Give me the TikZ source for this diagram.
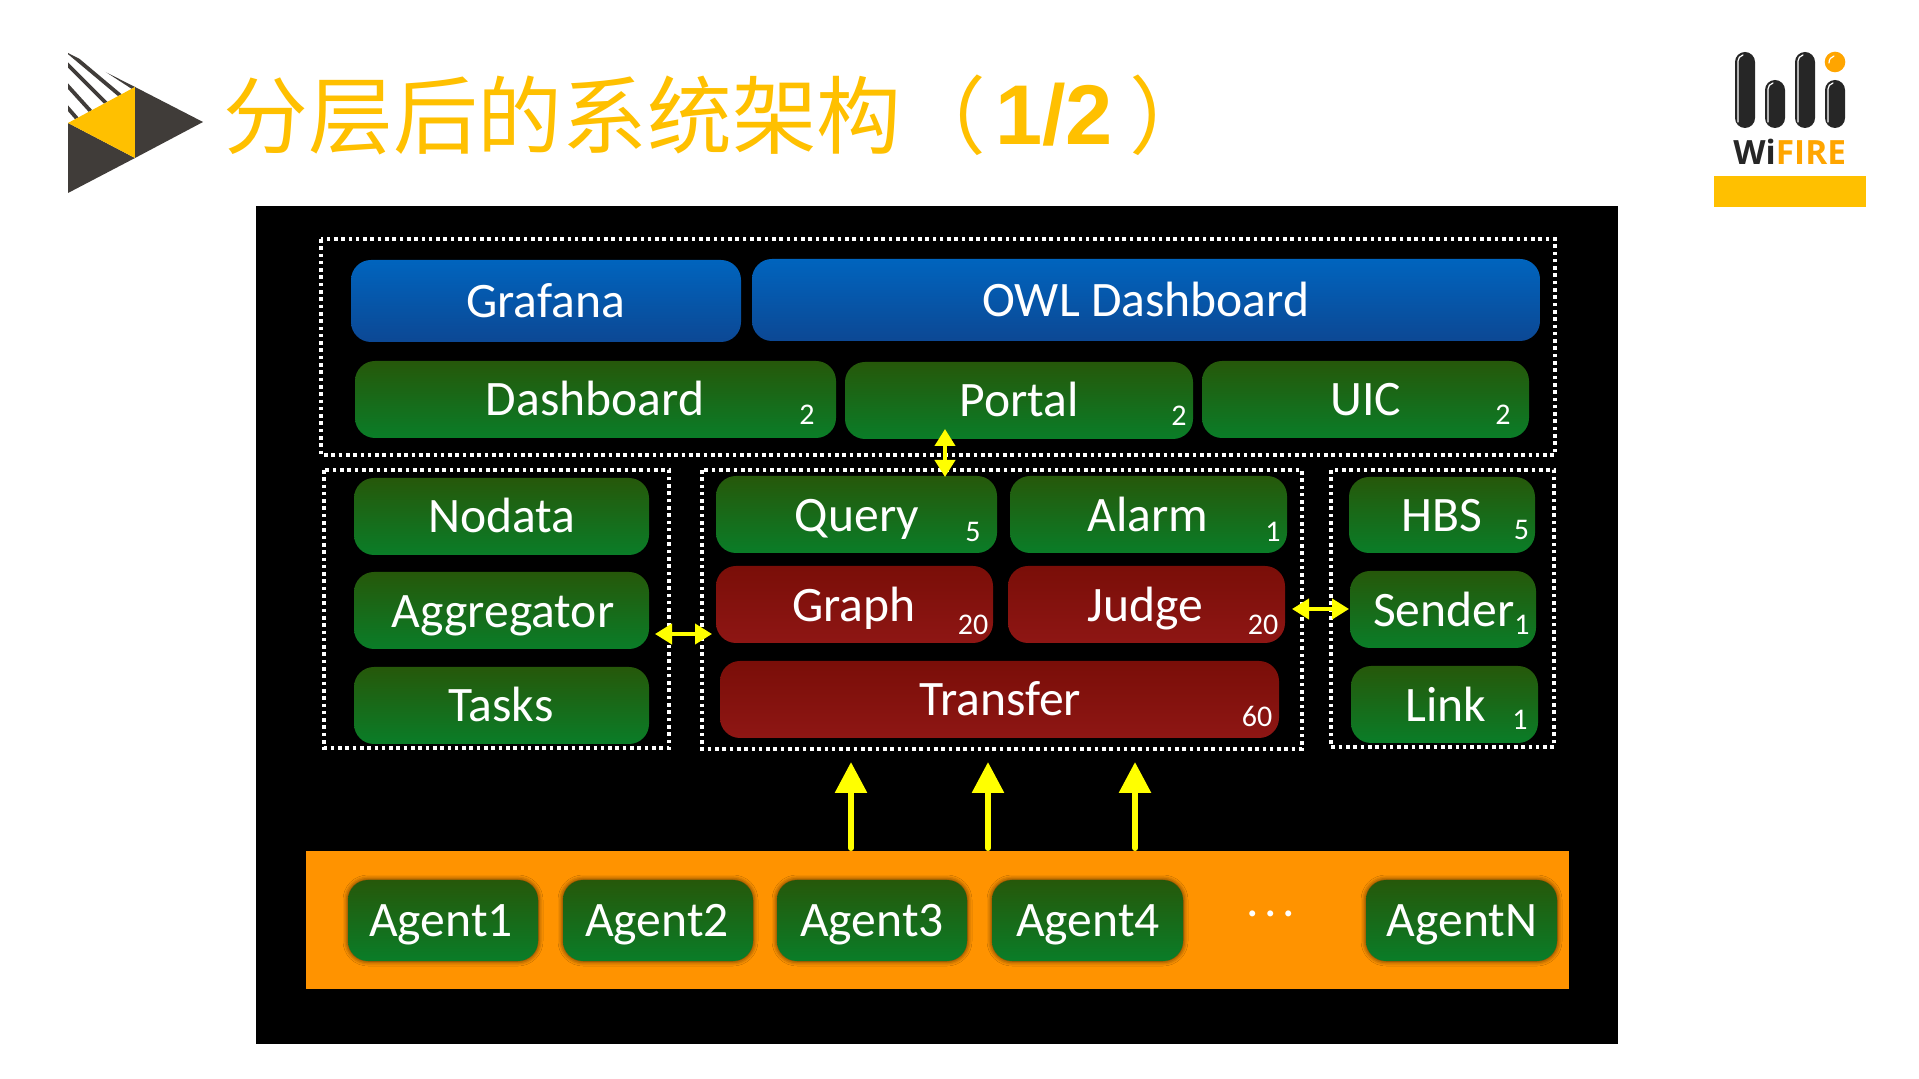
\documentclass[tikz,border=0pt]{standalone}
\usepackage{fontspec}
\setmainfont{Carlito}
\newfontfamily\cjk{Noto Sans CJK SC}
\newfontfamily\heb{Liberation Sans}[Scale=1]
\newfontfamily\wif{Open Sans}
\usetikzlibrary{arrows.meta,shadows.blur}
\definecolor{gold}{HTML}{FFC000}
\definecolor{darklogo}{HTML}{403C39}
\definecolor{orangeband}{HTML}{FF9300}
\definecolor{arrowy}{HTML}{FFFF00}
\definecolor{logoorange}{HTML}{FFA500}
\definecolor{logodark}{HTML}{262626}
\tikzset{
 x=0.5pt,y=-0.5pt,
 bar/.style={inner sep=0pt,rounded corners=10pt,draw=none},
 greenbar/.style={bar,top color={rgb,255:red,38;green,88;blue,10},bottom color={rgb,255:red,10;green,125;blue,40}},
 redbar/.style={bar,top color={rgb,255:red,122;green,14;blue,8},bottom color={rgb,255:red,142;green,22;blue,20}},
 bluebar/.style={bar,top color={rgb,255:red,0;green,100;blue,190},bottom color={rgb,255:red,12;green,72;blue,148}},
 dotbox/.style={draw=white,line width=1.8pt,dash pattern=on 1.8pt off 1.85pt},
 main/.style={text=white,font=\fontsize{24.8}{24.8}\selectfont,anchor=base,inner sep=0pt},
 sub/.style={text=white,font=\fontsize{15}{15}\selectfont,inner sep=0pt},
 thickarrow/.style={draw=arrowy,line width=3pt,-{Triangle[length=15.5pt,width=15.5pt]},line cap=round},
 twoway/.style={draw=arrowy,line width=2pt,{Triangle[length=8.5pt,width=10pt]}-{Triangle[length=8.5pt,width=10pt]}},
 stripe/.style={darklogo,line width=1.9pt},
}
\newcommand{\bx}[6]{\node[#2,minimum width={(#5-#3)*0.5pt},minimum height={(#6-#4)*0.5pt}] (#1) at ({(#3+#5)/2},{(#4+#6)/2}) {};}
\newcommand{\tx}[4]{\node[main] (#1) at (#2,{#3+1.5}) {#4};}
\newcommand{\sx}[4]{\node[sub] (#1) at (#2,#3) {#4};}
\newcommand{\agent}[3]{\node[greenbar,blur shadow={shadow xshift=0pt,shadow yshift=0pt,shadow blur radius=2.5pt,shadow opacity=75},minimum width={(#3-#2)*0.5pt},minimum height=40.5pt] (#1) at ({(#2+#3)/2},920.5) {};}
\begin{document}
\begin{tikzpicture}
\useasboundingbox (0,0) rectangle (1919,1079);
\fill[white] (0,0) rectangle (1919,1079);
% left logo
\begin{scope}
 \clip (68,53) -- (135,87) -- (68,123) -- cycle;
 \draw[stripe] (66,50) -- (122,97);
 \draw[stripe] (66,63) -- (112,109);
 \draw[stripe] (66,84) -- (95,116);
 \draw[stripe] (66,106) -- (80,122);
 \draw[stripe] (100,66) -- (140,92);
\end{scope}
\fill[darklogo] (68,123) -- (135,158) -- (68,193) -- cycle;
\fill[gold] (68,123) -- (135,87) -- (135,158) -- cycle;
\fill[darklogo] (135,87) -- (203,122) -- (135,158) -- cycle;
% title
\node[anchor=base west,inner sep=0pt,text=gold,font=\fontsize{42.4}{42.4}\selectfont\cjk] (title) at (223,148) {分层后的系统架构（\hskip 4.3pt\raisebox{1.5pt}{\heb\bfseries 1/2}\hskip 8pt）};
% right logo
\foreach \a/\b/\t in {1735/1755/52,1765/1785/80,1795/1815/52,1825/1845/80}{
 \fill[logodark] (\a,\t) [rounded corners=5pt] rectangle (\b,128);
 \draw[white,line width=0.6pt,line cap=round] ({\a+3},122) -- ({\a+3},{\t+9}) .. controls ({\a+3},{\t+6}) and ({\a+5},{\t+4}) .. ({\a+8},{\t+3});
}
\fill[logoorange] (1835,62) circle (10.3);
\draw[white,line width=0.6pt,line cap=round] (1829,63) .. controls (1829,59) and (1831,57) .. (1834,56);
\node[anchor=base west,inner sep=0pt,font=\fontsize{16.7}{16.7}\selectfont\wif\bfseries] (wifire) at (1733,165) {{\color{logodark}Wi}{\color{logoorange}FIRE}};
\fill[gold] (1714,176) rectangle (1866,207);
% panel
\fill[black] (256,206) rectangle (1618,1044);
\fill[orangeband] (306,851) rectangle (1569,989);
\draw[dotbox] (321,239) rectangle (1555,455);
\draw[dotbox] (324,470) rectangle (669,748);
\draw[dotbox] (702,470) rectangle (1302,749);
\draw[dotbox] (1331,470) rectangle (1554,747);
% bars
\bx{grafana}{bluebar}{351}{260}{741}{342}
\bx{owl}{bluebar}{752}{259}{1540}{341}
\bx{dash}{greenbar}{355}{361}{836}{438}
\bx{portal}{greenbar}{845}{362}{1193}{439}
\bx{uic}{greenbar}{1202}{361}{1529}{438}
\bx{nodata}{greenbar}{354}{478}{649}{555}
\bx{aggr}{greenbar}{354}{572}{649}{649}
\bx{tasks}{greenbar}{354}{667}{649}{744}
\bx{query}{greenbar}{716}{476}{997}{553}
\bx{alarm}{greenbar}{1010}{476}{1287}{553}
\bx{graph}{redbar}{716}{566}{993}{643}
\bx{judge}{redbar}{1008}{566}{1285}{643}
\bx{transfer}{redbar}{720}{661}{1279}{738}
\bx{hbs}{greenbar}{1349}{477}{1535}{553}
\bx{sender}{greenbar}{1350}{571}{1536}{648}
\bx{link}{greenbar}{1351}{666}{1538}{743}
\agent{a1}{348}{538}
\agent{a2}{563}{753}
\agent{a3}{777}{967}
\agent{a4}{992}{1183}
\agent{an}{1366}{1557}
% labels
\tx{tg}{545.5}{316}{Grafana}
\tx{to}{1146}{315}{OWL Dashboard}
\tx{td}{595}{414}{Dashboard}
\tx{tp}{1019}{415}{Portal}
\tx{tu}{1366}{414}{UIC}
\tx{tn}{502}{531}{Nodata}
\tx{tag}{503}{626}{Aggregator}
\tx{tt}{501}{720}{Tasks}
\tx{tq}{857}{530}{Query}
\tx{tal}{1148}{530}{Alarm}
\tx{tgr}{854}{620}{Graph}
\tx{tj}{1145}{620}{Judge}
\tx{ttr}{1000}{714}{Transfer}
\tx{th}{1442}{530}{HBS}
\tx{ts}{1444}{625}{Sender}
\tx{tl}{1446}{720}{Link}
\tx{t1}{441}{935}{Agent1}
\tx{t2}{657}{935}{Agent2}
\tx{t3}{872}{935}{Agent3}
\tx{t4}{1088}{935}{Agent4}
\tx{tN}{1462}{935}{AgentN}
\sx{s1}{807}{415}{2}
\sx{s2}{1179}{416}{2}
\sx{s3}{1503}{415}{2}
\sx{s4}{973}{532}{5}
\sx{s5}{1273}{532}{1}
\sx{s6}{1521.5}{530}{5}
\sx{s7}{973}{625}{20}
\sx{s8}{1263}{625}{20}
\sx{s9}{1522}{625}{1}
\sx{s10}{1520}{720}{1}
\sx{s11}{1257}{716}{60}
\node[main] (dots) at (1271,917) {.\hskip 2.8pt.\hskip 2.8pt.};
% arrows
\coordinate (u1a) at (851,848); \coordinate (u1b) at (851,762);
\coordinate (u2a) at (988,848); \coordinate (u2b) at (988,762);
\coordinate (u3a) at (1135,848); \coordinate (u3b) at (1135,762);
\draw[thickarrow] (u1a) -- (u1b);
\draw[thickarrow] (u2a) -- (u2b);
\draw[thickarrow] (u3a) -- (u3b);
\coordinate (v1) at (945,429); \coordinate (v2) at (945,477);
\coordinate (h1) at (655,634); \coordinate (h2) at (712,634);
\coordinate (h3) at (1292,609); \coordinate (h4) at (1349,609);
\draw[twoway] (v1) -- (v2);
\draw[twoway] (h1) -- (h2);
\draw[twoway] (h3) -- (h4);
\end{tikzpicture}
\end{document}
